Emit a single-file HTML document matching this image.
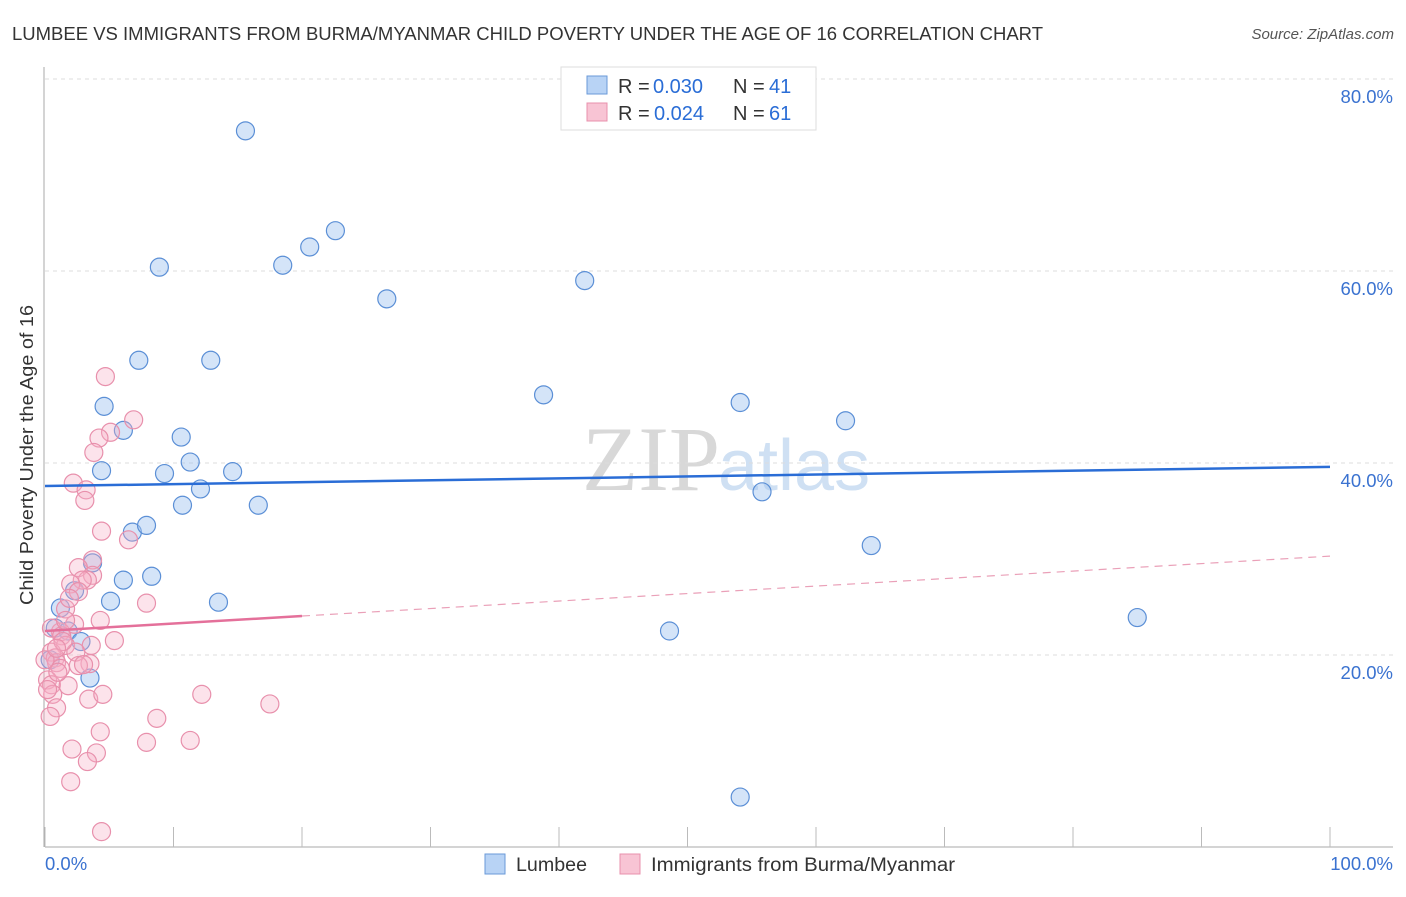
<!DOCTYPE html>
<html><head><meta charset="utf-8"><style>
body{margin:0;background:#fff;font-family:"Liberation Sans",sans-serif}
</style></head><body>
<svg width="1406" height="892" xmlns="http://www.w3.org/2000/svg" id="chart" font-family="Liberation Sans, sans-serif">
<text x="12" y="40" font-size="18" fill="#333" textLength="1031" lengthAdjust="spacingAndGlyphs">LUMBEE VS IMMIGRANTS FROM BURMA/MYANMAR CHILD POVERTY UNDER THE AGE OF 16 CORRELATION CHART</text>
<text x="1394" y="39" font-size="15" fill="#555" font-style="italic" text-anchor="end">Source: ZipAtlas.com</text>
<text x="720" y="490" font-size="92" fill="#d8d8d8" text-anchor="end" font-family="Liberation Serif, serif">ZIP</text>
<text x="718" y="490" font-size="72" fill="#cfe0f3">atlas</text>
<g id="grid"></g><g id="axes"></g><g id="pts"></g><g id="lines"></g>
<text x="33" y="455" font-size="18" fill="#333" text-anchor="middle" textLength="300" lengthAdjust="spacingAndGlyphs" transform="rotate(-90 33 455)">Child Poverty Under the Age of 16</text>
<g>
<rect x="561" y="67" width="255" height="63" fill="#fff" stroke="#ddd"/>
<rect x="587" y="76" width="20" height="18" fill="#b8d3f5" stroke="#6a9ad8"/>
<rect x="587" y="103" width="20" height="18" fill="#f8c4d4" stroke="#e890ac"/>
<text x="618" y="93" font-size="20" fill="#333">R =</text>
<text x="653" y="93" font-size="20" fill="#2a6dd6">0.030</text>
<text x="733" y="93" font-size="20" fill="#333">N =</text>
<text x="769" y="93" font-size="20" fill="#2a6dd6">41</text>
<text x="618" y="120" font-size="20" fill="#333">R =</text>
<text x="654" y="120" font-size="20" fill="#2a6dd6">0.024</text>
<text x="733" y="120" font-size="20" fill="#333">N =</text>
<text x="769" y="120" font-size="20" fill="#2a6dd6">61</text>
</g>
<g>
<rect x="485" y="854" width="20" height="20" fill="#b8d3f5" stroke="#6a9ad8"/>
<text x="516" y="871" font-size="19" fill="#333" textLength="71" lengthAdjust="spacingAndGlyphs">Lumbee</text>
<rect x="620" y="854" width="20" height="20" fill="#f8c4d4" stroke="#e890ac"/>
<text x="651" y="871" font-size="19" fill="#333" textLength="304" lengthAdjust="spacingAndGlyphs">Immigrants from Burma/Myanmar</text>
</g>
</svg>
<script>
const blueX=[15.6,8.9,18.5,20.6,22.6,26.6,42.0,7.3,12.9,38.8,54.1,62.3,4.6,6.1,10.6,4.4,9.3,11.3,14.6,10.7,12.1,16.6,55.8,6.8,7.9,64.3,3.7,6.1,8.3,2.3,5.1,13.5,1.2,0.8,1.8,2.8,48.6,85.0,0.4,3.5,54.1];
const blueY=[74.6,60.4,60.6,62.5,64.2,57.1,59.0,50.7,50.7,47.1,46.3,44.4,45.9,43.4,42.7,39.2,38.9,40.1,39.1,35.6,37.3,35.6,37.0,32.8,33.5,31.4,29.6,27.8,28.2,26.7,25.6,25.5,24.9,22.8,22.5,21.4,22.5,23.9,19.5,17.6,5.2];
const pinkX=[4.7,6.9,5.1,4.2,3.8,2.2,3.2,3.1,4.4,6.5,3.7,2.6,3.7,3.3,2.9,2.0,2.6,7.9,1.6,5.4,2.3,1.2,0.5,1.3,3.6,1.6,0.5,0.8,2.4,0.9,3.5,2.6,1.2,0.2,0.5,0.6,1.8,3.4,4.5,12.2,17.5,0.9,0.4,8.7,4.3,11.3,7.9,2.1,4.0,3.3,2.0,4.4,0.0,0.2,1.0,3.0,1.6,1.9,1.4,0.9,4.3];
const pinkY=[49.0,44.5,43.2,42.6,41.1,37.9,37.2,36.1,32.9,32.0,29.9,29.1,28.3,27.8,27.8,27.4,26.6,25.4,24.8,21.5,23.2,22.4,22.8,22.0,21.0,21.0,20.3,19.7,20.3,19.2,19.1,18.9,18.6,17.4,16.9,15.9,16.8,15.4,15.9,15.9,14.9,14.5,13.6,13.4,12.0,11.1,10.9,10.2,9.8,8.9,6.8,1.6,19.5,16.4,18.2,19.0,23.6,25.9,21.4,20.7,23.6];
const blueTrend=[37.6,39.6];
const pinkTrend=[22.5,30.3];
const xTicks=[0,10,20,30,40,50,60,70,80,90,100];
const yTicks=[20,40,60,80];
const NS="http://www.w3.org/2000/svg";
const sx=v=>45+v*12.85, sy=v=>847-v*9.6;
function mk(tag,attrs,parent){const e=document.createElementNS(NS,tag);for(const k in attrs)e.setAttribute(k,attrs[k]);document.getElementById(parent).appendChild(e);return e;}
yTicks.forEach(t=>{
 const g=mk('line',{x1:45,x2:1393,y1:sy(t),y2:sy(t),stroke:'#ddd','stroke-dasharray':'4,4'},'grid');
 
 
 const l=mk('text',{x:1393,y:sy(t)+24,'font-size':18.5,fill:'#3a72d0','text-anchor':'end'},'grid');
 l.textContent=t.toFixed(1)+'%';
 
 
});
const ya=mk('line',{x1:44,x2:44,y1:67,y2:847,stroke:'#aaa'},'axes');


const xa=mk('line',{x1:45,x2:1393,y1:847,y2:847,stroke:'#aaa'},'axes');


xTicks.forEach(t=>{
 const k=mk('line',{x1:sx(t),x2:sx(t),y1:827,y2:847,stroke:'#bbb'},'axes');
 
 
});
[[0,'0.0%','start',45],[100,'100.0%','end',1393]].forEach(a=>{
 const l=mk('text',{x:a[3],y:870,'font-size':18.5,fill:'#3a72d0','text-anchor':a[2]},'axes');
 l.textContent=a[1];
 
 
});
blueX.forEach((x,i)=>{
 const c=mk('circle',{cx:sx(x),cy:sy(blueY[i]),r:9,fill:'rgba(160,196,240,0.45)',stroke:'#5b8fd6','stroke-width':1.2},'pts');
 
 
});
pinkX.forEach((x,i)=>{
 const c=mk('circle',{cx:sx(x),cy:sy(pinkY[i]),r:9,fill:'rgba(246,175,198,0.35)',stroke:'#e890ac','stroke-width':1.2},'pts');
 
 
});
const bl=mk('line',{x1:sx(0),x2:sx(100),y1:sy(blueTrend[0]),y2:sy(blueTrend[1]),stroke:'#2a6dd6','stroke-width':2.5},'lines');


const pAt=v=>pinkTrend[0]+(pinkTrend[1]-pinkTrend[0])*v/100;
const ps=mk('line',{x1:sx(0),x2:sx(20),y1:sy(pAt(0)),y2:sy(pAt(20)),stroke:'#e4709a','stroke-width':2.5},'lines');


const pd=mk('line',{x1:sx(20),x2:sx(100),y1:sy(pAt(20)),y2:sy(pAt(100)),stroke:'#eaa0b8','stroke-width':1.2,'stroke-dasharray':'8,6'},'lines');


</script>
</body></html>
